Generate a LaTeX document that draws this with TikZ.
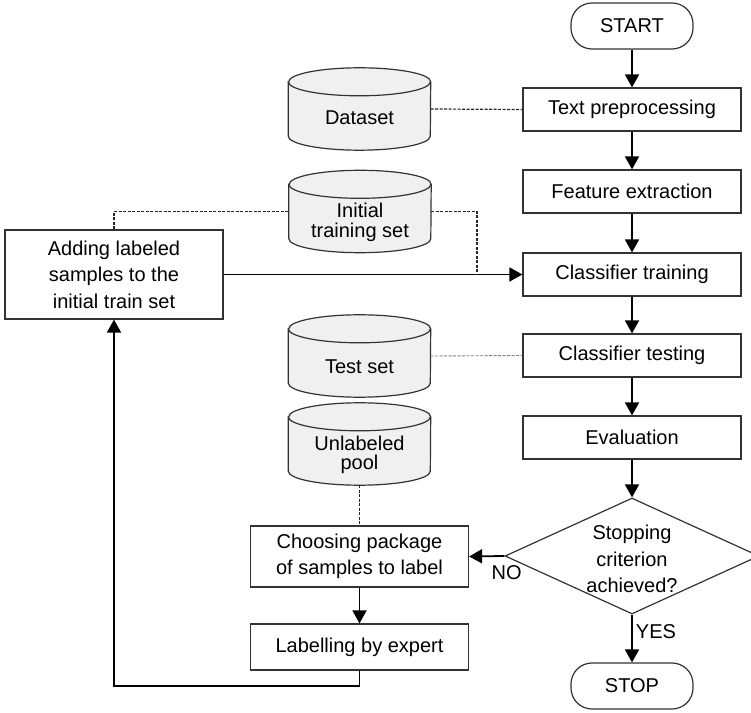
\documentclass[tikz,border=0pt]{standalone}
\usepackage{fontspec}
\setmainfont{Liberation Sans}
\usetikzlibrary{arrows.meta,shapes.geometric,calc}
\begin{document}
\begin{tikzpicture}[x=1pt,y=1pt,
  every node/.style={font=\fontsize{20}{26.5}\selectfont, text=black},
  box/.style={draw=black!80, line width=1.2pt, rectangle, minimum width=218, minimum height=43, inner sep=0, align=center},
  term/.style={draw=black!80, line width=1.2pt, rectangle, rounded corners=21, minimum width=122, minimum height=46, inner sep=0},
  cylbox/.style={rectangle, minimum width=142, minimum height=82, inner sep=0},
  cylfill/.style={fill=black!6, draw=black!80, line width=1.2pt},
  cyltext/.style={align=center, inner sep=0},
  arr/.style={line width=1.8pt, -{Triangle[length=13pt,width=14pt]}},
  dsh/.style={line width=1.2pt, draw=black!85, dash pattern=on 3pt off 1.5pt},
  dshlight/.style={line width=0.9pt, draw=black!50, dash pattern=on 3pt off 1.5pt},
]
\newcommand\drawcyl[1]{%
  \path[cylfill] ([yshift=-14]#1.north west) -- ([yshift=14]#1.south west)
     arc[start angle=180,end angle=360,x radius=71,y radius=14]
     -- ([yshift=-14]#1.north east)
     arc[start angle=0,end angle=180,x radius=71,y radius=14] -- cycle;
  \draw[draw=black!80, line width=1.2pt] ([yshift=-14]#1.north west)
     arc[start angle=180,end angle=360,x radius=71,y radius=14];}
\useasboundingbox (0,0) rectangle (751,712);
\fill[white] (0,0) rectangle (751,712);

% right column
\node[term] (start) at (632,686) {START};
\node[box] (tp) at (632,602.5) {Text preprocessing};
\node[box] (fe) at (632,520.5) {Feature extraction};
\node[box] (ct) at (632,437.5) {Classifier training};
\node[box] (cte) at (632,356.5) {Classifier testing};
\node[box] (ev) at (632,274.5) {Evaluation};
\node[draw=black!80, line width=1.2pt, diamond, minimum width=254, minimum height=116, inner sep=0] (dia) at (632,156) {};
\node[align=center, inner sep=0] (diat) at ([yshift=-3]dia.center) {Stopping\\criterion\\achieved?};
\node[term] (stop) at (632,26) {STOP};

% left parts
\node[box, minimum height=89] (add) at (114,437.5) {Adding labeled\\samples to the\\initial train set};
\node[box, minimum height=61] (ch) at (359.5,155.5) {Choosing package\\of samples to label};
\node[box, minimum height=46] (lab) at (359.5,65) {Labelling by expert};

% cylinders
\node[cylbox] (ds) at (359.5,603) {};
\node[cylbox] (init) at (360,500.5) {};
\node[cylbox] (test) at (359.5,356) {};
\node[cylbox] (unl) at (359.5,268) {};
\drawcyl{ds}\drawcyl{init}\drawcyl{test}\drawcyl{unl}
\node[cyltext] (dst) at ([yshift=-9]ds.center) {Dataset};
\node[cyltext] (initt) at ([yshift=-11]init.center) {Initial\\[-6.5pt]training set};
\node[cyltext] (testt) at ([yshift=-11]test.center) {Test set};
\node[cyltext] (unlt) at ([yshift=-11]unl.center) {Unlabeled\\[-7pt]pool};

% main arrows
\draw[arr] (start) -- (tp);
\draw[arr] (tp) -- (fe);
\draw[arr] (fe) -- (ct);
\draw[arr] (ct) -- (cte);
\draw[arr] (cte) -- (ev);
\draw[arr] (ev) -- (dia);
\draw[arr] (dia) -- node[right, pos=0.35, inner sep=3pt] (yes) {YES} (stop);
\draw[arr] (dia.west) -- (ch.east);
\node[anchor=north west, inner sep=0] (no) at ([xshift=-13,yshift=-9]dia.west) {NO};
\draw[arr] (ch) -- (lab);
\draw[arr] (add.east) -- (ct.west);
\coordinate (loopc) at (114,26);
\draw[arr] (lab.south) |- (loopc) -- (add.south);

% dashed links
\draw[dsh] (ds.east) -- (tp.west);
\draw[dshlight] (test.east) -- (cte.west);
\draw[dsh] (unl.south) -- (ch.north);
\coordinate (jn) at (477,437.5);
\draw[dsh] (add.north) |- (init.west);
\draw[dsh] (init.east) -| (jn);
\end{tikzpicture}
\end{document}
